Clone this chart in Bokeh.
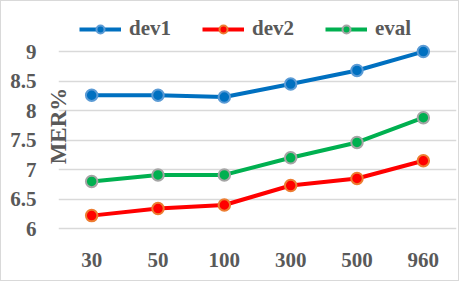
from bokeh.plotting import figure
from bokeh.models import FactorRange, Range1d, FixedTicker, Legend
from bokeh.embed import file_html
from bokeh.resources import INLINE

categories = ["30", "50", "100", "300", "500", "960"]
dev1 = [8.26, 8.26, 8.23, 8.45, 8.68, 9.00]
dev2 = [6.22, 6.34, 6.40, 6.73, 6.85, 7.15]
eval_ = [6.80, 6.91, 6.91, 7.20, 7.46, 7.88]
y_ticks = [6, 6.5, 7, 7.5, 8, 8.5, 9]
y_tick_labels = ["6", "6.5", "7", "7.5", "8", "8.5", "9"]
y_title = "MER%"

FONT = "Liberation Serif"
TXT = "#595959"

p = figure(width=459, height=281, x_range=FactorRange(*categories),
           y_range=Range1d(5.9, 9.578), output_backend="svg", toolbar_location=None,
           min_border_left=57, min_border_right=4, min_border_top=16, min_border_bottom=48,
           styles={"border": "1px solid #d9d9d9"})
p.outline_line_color = None
p.background_fill_color = "white"
p.border_fill_color = "white"

series = [
    ("dev1", dev1, "#0070C0", "#5B9BD5"),
    ("dev2", dev2, "#FF0000", "#ED7D31"),
    ("eval", eval_, "#00B050", "#A5A5A5"),
]
items = []
for name, vals, col, edge in series:
    r1 = p.line(categories, vals, line_color=col, line_width=4)
    r2 = p.scatter(categories, vals, size=11.5, fill_color=col, line_color=edge, line_width=2)
    items.append((name, [r1, r2]))

legend = Legend(items=items, orientation="horizontal", location=(21, 193),
                glyph_width=42, glyph_height=20, label_standoff=8, spacing=31,
                padding=0, margin=0, border_line_color=None, background_fill_alpha=0,
                label_text_font=FONT, label_text_font_style="bold",
                label_text_font_size="21px", label_text_color=TXT)
p.add_layout(legend, "center")

p.yaxis.ticker = FixedTicker(ticks=y_ticks)
p.yaxis.major_label_overrides = {t: s for t, s in zip(y_ticks, y_tick_labels)}
for ax in (p.xaxis, p.yaxis):
    ax.axis_line_color = None
    ax.major_tick_line_color = None
    ax.minor_tick_line_color = None
    ax.major_label_text_font = FONT
    ax.major_label_text_font_style = "bold"
    ax.major_label_text_font_size = "21px"
    ax.major_label_text_color = TXT
p.yaxis.major_label_standoff = 16
p.xaxis.major_label_standoff = 12

p.yaxis.axis_label = y_title
p.yaxis.axis_label_standoff = -64
p.yaxis.axis_label_text_font = FONT
p.yaxis.axis_label_text_font_style = "bold"
p.yaxis.axis_label_text_font_size = "23px"
p.yaxis.axis_label_text_color = TXT

p.xgrid.grid_line_color = None
p.ygrid.grid_line_color = "#d9d9d9"
p.ygrid.grid_line_width = 1.5

open("out.html", "w").write(file_html(p, INLINE))
